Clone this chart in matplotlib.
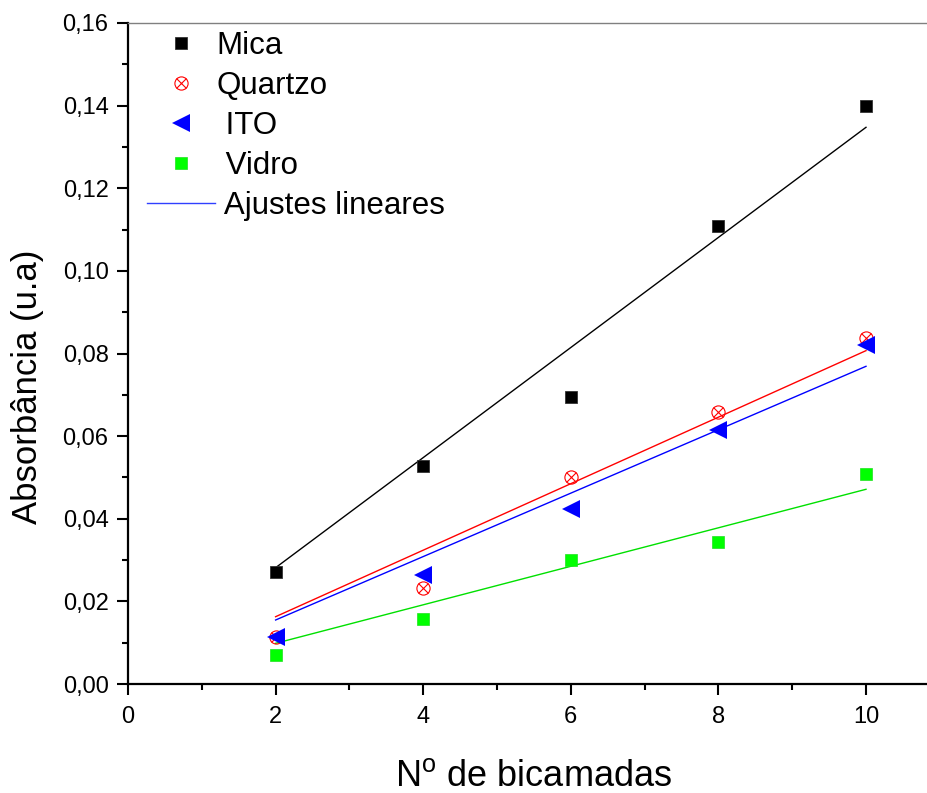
import numpy as np
import matplotlib
matplotlib.use('Agg')
import matplotlib.pyplot as plt
from matplotlib.lines import Line2D
from matplotlib.legend_handler import HandlerTuple
from matplotlib.ticker import MultipleLocator, FuncFormatter

plt.rcParams['font.family'] = ['Liberation Sans', 'DejaVu Sans']
plt.rcParams['mathtext.fontset'] = 'custom'
plt.rcParams['mathtext.rm'] = 'Liberation Sans'

# numero de bicamadas
bicamadas = [2, 4, 6, 8, 10]

# absorbancia medida em cada substrato
mica = [0.0271, 0.0528, 0.0695, 0.1109, 0.1399]
quartzo = [0.0114, 0.0232, 0.0502, 0.0658, 0.0837]
ito = [0.0114, 0.0264, 0.0423, 0.0615, 0.0821]
vidro = [0.0070, 0.0157, 0.0300, 0.0343, 0.0508]

# ajustes lineares (coef. angular, coef. linear)
ajuste_mica = [0.013325, 0.0015]
ajuste_quartzo = [0.00805, 0.00019]
ajuste_ito = [0.007676, 0.00014]
ajuste_vidro = [0.00466, 0.00053]

fig = plt.figure(figsize=(9.28, 7.93), dpi=100)
ax = fig.add_axes([128/928, 109/793, 811.8/928, 661/793])

x = np.array(bicamadas)
ax.plot(x, np.polyval(ajuste_mica, x), color='black', lw=1.0, zorder=2)
ax.plot(x, np.polyval(ajuste_quartzo, x), color='red', lw=1.0, zorder=2)
ax.plot(x, np.polyval(ajuste_ito, x), color='blue', lw=1.0, zorder=2)
ax.plot(x, np.polyval(ajuste_vidro, x), color='#00e000', lw=1.0, zorder=2)

h_mica, = ax.plot(bicamadas, mica, 's', color='black', mec='#333333', mew=0.6, ms=8.6, zorder=3)
h_q1, = ax.plot(bicamadas, quartzo, 'o', mfc='none', mec='red', mew=0.8, ms=9.5, zorder=3)
h_q2, = ax.plot(bicamadas, quartzo, 'x', color='red', mew=0.8, ms=6.5, zorder=3)
h_ito, = ax.plot(bicamadas, ito, '<', color='blue', ms=13, mew=0, zorder=4)
h_vidro, = ax.plot(bicamadas, vidro, 's', color='#00ff00', mec='#20e020', mew=0.5, ms=8.6, zorder=3)
h_fit = Line2D([], [], color='#3040ff', lw=1.0)

ax.legend([h_mica, (h_q1, h_q2), h_ito, h_vidro, h_fit],
          ['Mica', 'Quartzo', ' ITO', ' Vidro', ' Ajustes lineares'],
          handler_map={tuple: HandlerTuple(ndivide=1)},
          loc='upper left', bbox_to_anchor=(147/928, 1 - 31/793),
          bbox_transform=fig.transFigure, frameon=False, fontsize=22.5,
          handlelength=2.18, handletextpad=0.05, labelspacing=0.32,
          borderpad=0, borderaxespad=0)

ax.set_xlim(0, 11)
ax.set_ylim(0, 0.16)
ax.xaxis.set_major_locator(MultipleLocator(2))
ax.xaxis.set_minor_locator(MultipleLocator(1))
ax.yaxis.set_major_locator(MultipleLocator(0.02))
ax.yaxis.set_minor_locator(MultipleLocator(0.01))
ax.yaxis.set_major_formatter(FuncFormatter(lambda v, p: ('%.2f' % v).replace('.', ',')))
ax.xaxis.set_major_formatter(FuncFormatter(lambda v, p: '%d' % v))

for s in ['left', 'bottom']:
    ax.spines[s].set_linewidth(1.6)
ax.spines['top'].set_linewidth(1.0)
ax.spines['top'].set_color('#808080')
ax.spines['right'].set_visible(False)

ax.tick_params(which='major', direction='out', length=8, width=1.5, labelsize=17)
ax.tick_params(which='minor', direction='out', length=4, width=1.5)
ax.tick_params(axis='y', which='major', pad=6)
ax.tick_params(axis='x', which='major', pad=8)
ax.tick_params(top=False, right=False, which='both')

ax.set_ylabel('Absorbância (u.a)', fontsize=25)
ax.yaxis.set_label_coords(-0.1035, 0.449)
ax.set_xlabel('N$^{\\rm o}$ de bicamadas', fontsize=26, labelpad=22)

plt.savefig('out.png', dpi=100)
